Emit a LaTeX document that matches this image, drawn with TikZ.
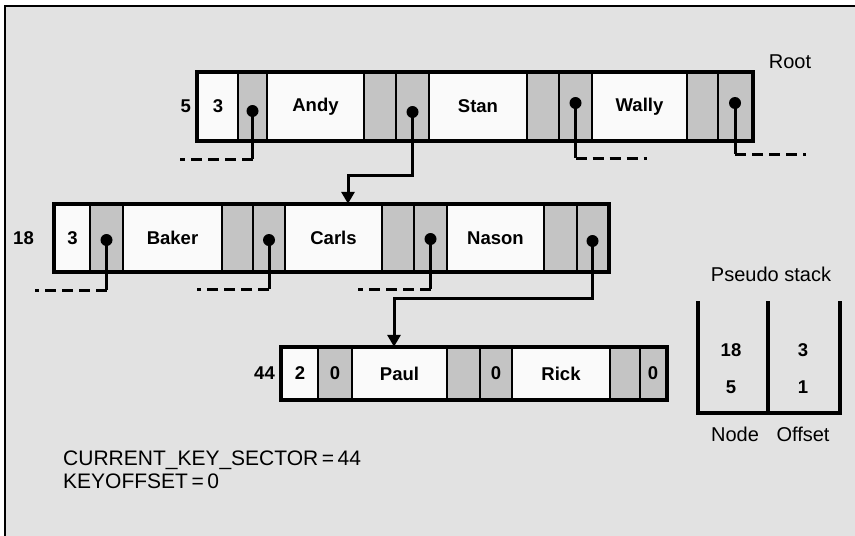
\documentclass[tikz,border=0pt]{standalone}
\usepackage{fontspec}
\setmainfont{Liberation Sans}
\usetikzlibrary{arrows.meta}
\definecolor{bg}{RGB}{226,226,226}
\definecolor{cellg}{RGB}{196,196,196}
\definecolor{cellw}{RGB}{250,250,250}
\newcommand\mycell[7]{\node[#2,minimum width={(#4-#3)*1pt},minimum height={(#6-#5)*1pt}] (#1) at ({(#3+#4)/2},{(#5+#6)/2}) {#7};}
\begin{document}
\begin{tikzpicture}[x=1pt,y=-1pt,
 cell/.style={draw=black,line width=2.4pt,inner sep=0pt,font=\fontsize{18.5}{18.5}\selectfont\bfseries},
 wc/.style={cell,fill=cellw},
 gc/.style={cell,fill=cellg},
 outer/.style={draw=black,line width=3.6pt},
 ptr/.style={line width=3pt},
 dashptr/.style={line width=3pt,dash pattern=on 11pt off 6pt},
 dotmark/.style={circle,fill=black,inner sep=0pt,minimum size=12pt},
 lbl/.style={inner sep=0pt,font=\fontsize{20}{20}\selectfont},
 blbl/.style={inner sep=0pt,font=\fontsize{18.5}{18.5}\selectfont\bfseries},
 arr/.style={ptr,-{Triangle[width=13pt,length=12pt]}},
 stackline/.style={line width=3.6pt}
]
\useasboundingbox (0,0) rectangle (855,536);
\fill[white] (0,0) rectangle (855,536);
\fill[bg] (5,6) rectangle (855,536);
\draw[line width=2.6pt] (5,536) -- (5,6) -- (855,6);

% Row 1 (root)
\mycell{r1a}{wc}{198}{238}{73}{140}{3}
\mycell{r1b}{gc}{238}{267}{73}{140}{}
\mycell{r1c}{wc}{267}{364}{73}{140}{Andy}
\mycell{r1d}{gc}{364}{396}{73}{140}{}
\mycell{r1e}{gc}{396}{429}{73}{140}{}
\mycell{r1f}{wc}{429}{527}{73}{140}{Stan}
\mycell{r1g}{gc}{527}{559}{73}{140}{}
\mycell{r1h}{gc}{559}{592}{73}{140}{}
\mycell{r1i}{wc}{592}{687}{73}{140}{Wally}
\mycell{r1j}{gc}{687}{718}{73}{140}{}
\mycell{r1k}{gc}{718}{752}{73}{140}{}
\draw[outer] (r1a.north west) rectangle (r1k.south east);

% Row 2
\mycell{r2a}{wc}{55}{90}{205}{271}{3}
\mycell{r2b}{gc}{90}{123}{205}{271}{}
\mycell{r2c}{wc}{123}{222}{205}{271}{Baker}
\mycell{r2d}{gc}{222}{253}{205}{271}{}
\mycell{r2e}{gc}{253}{285}{205}{271}{}
\mycell{r2f}{wc}{285}{382}{205}{271}{Carls}
\mycell{r2g}{gc}{382}{414}{205}{271}{}
\mycell{r2h}{gc}{414}{447}{205}{271}{}
\mycell{r2i}{wc}{447}{544}{205}{271}{Nason}
\mycell{r2j}{gc}{544}{577}{205}{271}{}
\mycell{r2k}{gc}{577}{608}{205}{271}{}
\draw[outer] (r2a.north west) rectangle (r2k.south east);

% Row 3
\mycell{r3a}{wc}{282}{318}{348}{399}{2}
\mycell{r3b}{gc}{318}{352}{348}{399}{0}
\mycell{r3c}{wc}{352}{447}{348}{399}{Paul}
\mycell{r3d}{gc}{447}{480}{348}{399}{}
\mycell{r3e}{gc}{480}{512}{348}{399}{0}
\mycell{r3f}{wc}{512}{610}{348}{399}{Rick}
\mycell{r3g}{gc}{610}{640}{348}{399}{}
\mycell{r3h}{gc}{640}{666}{348}{399}{0}
\draw[outer] (r3a.north west) rectangle (r3h.south east);

% sector labels
\node[blbl,anchor=east] (n5) at (191,106) {5};
\node[blbl,anchor=east] (n18) at (34,238) {18};
\node[blbl,anchor=east] (n44) at (275,373) {44};
\node[lbl] (root) at (790,62) {Root};

% pointer dots
\node[dotmark] (d1a) at (252.5,111) {};
\node[dotmark] (d1b) at (412.5,112) {};
\node[dotmark] (d1c) at (575.5,103) {};
\node[dotmark] (d1d) at (735,103) {};
\node[dotmark] (d2a) at (106.5,240) {};
\node[dotmark] (d2b) at (269,240) {};
\node[dotmark] (d2c) at (430.5,239) {};
\node[dotmark] (d2d) at (592.5,241) {};

% row 1 pointers
\coordinate (c1a) at (252.5,159); \coordinate (e1a) at (180,159);
\draw[ptr] (d1a.center) -- (c1a); \draw[dashptr] (c1a) -- (e1a);
\coordinate (j1) at (348,175);
\draw[arr] (d1b.center) |- (j1) -- (j1 |- r2f.north);
\coordinate (c1c) at (575.5,158); \coordinate (e1c) at (647,158);
\draw[ptr] (d1c.center) -- (c1c); \draw[dashptr] (c1c) -- (e1c);
\coordinate (c1d) at (735,154); \coordinate (e1d) at (806,154);
\draw[ptr] (d1d.center) -- (c1d); \draw[dashptr] (c1d) -- (e1d);

% row 2 pointers
\coordinate (c2a) at (106.5,290); \coordinate (e2a) at (35,290);
\draw[ptr] (d2a.center) -- (c2a); \draw[dashptr] (c2a) -- (e2a);
\coordinate (c2b) at (269,289); \coordinate (e2b) at (197,289);
\draw[ptr] (d2b.center) -- (c2b); \draw[dashptr] (c2b) -- (e2b);
\coordinate (c2c) at (430.5,289); \coordinate (e2c) at (358,289);
\draw[ptr] (d2c.center) -- (c2c); \draw[dashptr] (c2c) -- (e2c);
\coordinate (j2) at (394,298);
\draw[arr] (d2d.center) |- (j2) -- (j2 |- r3c.north);

% pseudo stack
\node[lbl] (ps) at (771,274) {Pseudo stack};
\coordinate (s1) at (698,301); \coordinate (s2) at (698,413);
\coordinate (s3) at (840,413); \coordinate (s4) at (840,301);
\coordinate (s5) at (768,301); \coordinate (s6) at (768,413);
\draw[stackline] (s1) -- (s2) -- (s3) -- (s4);
\draw[stackline] (s5) -- (s6);
\node[blbl] (k18) at (731,350) {18};
\node[blbl] (k5) at (731,387) {5};
\node[blbl] (k3) at (803,350) {3};
\node[blbl] (k1) at (803,387) {1};
\node[lbl] (nodelbl) at (735,434) {Node};
\node[lbl] (offlbl) at (803,434) {Offset};

% status text
\node[lbl,anchor=west,font=\fontsize{21}{21}\selectfont] (cks) at (63,460) {CURRENT\_KEY\_SECTOR\,=\,44};
\node[lbl,anchor=west,font=\fontsize{21}{21}\selectfont] (kof) at (63,481) {KEYOFFSET\,=\,0};
\end{tikzpicture}
\end{document}
